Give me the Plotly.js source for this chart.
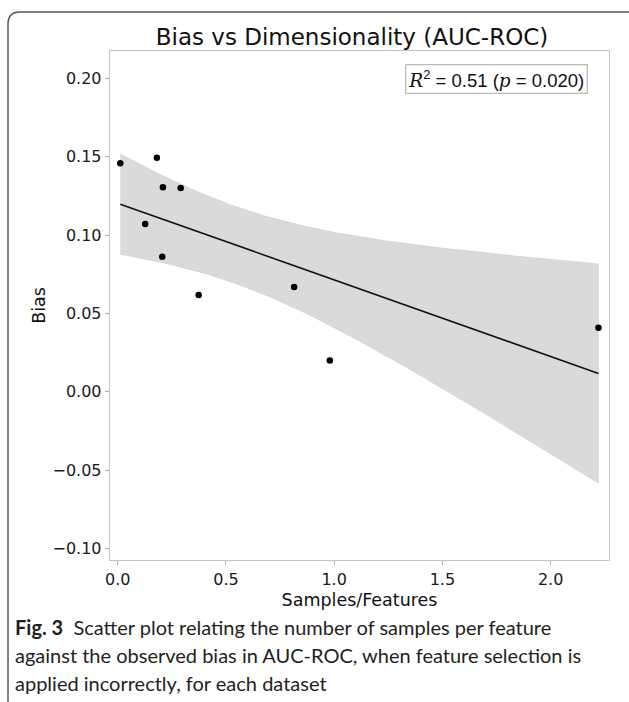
<!DOCTYPE html>
<html>
<head>
<meta charset="utf-8">
<script src="https://cdn.plot.ly/plotly-3.0.1.min.js"></script>
<style>
  html, body { margin: 0; padding: 0; background: #ffffff; }
  #chart { width: 629px; height: 702px; }
</style>
</head>
<body>
<div id="chart"></div>
<script>
// ---------------- data ----------------
const samplesPerFeature = [0.012, 0.181, 0.209, 0.291, 0.127, 0.206, 0.374, 0.815, 0.980, 2.221];
const biasValues        = [0.1458, 0.1494, 0.1305, 0.1300, 0.1070, 0.0862, 0.0617, 0.0668, 0.0200, 0.0409];

const xTickVals  = [0.0, 0.5, 1.0, 1.5, 2.0];
const xTickText  = ["0.0", "0.5", "1.0", "1.5", "2.0"];
const yTickVals  = [-0.10, -0.05, 0.00, 0.05, 0.10, 0.15, 0.20];
const yTickText  = ["\u22120.10", "\u22120.05", "0.00", "0.05", "0.10", "0.15", "0.20"];

const titleText   = "Bias vs Dimensionality (AUC-ROC)";
const xAxisTitle  = "Samples/Features";
const yAxisTitle  = "Bias";
const statsText   = "<i style=\"font-family:'DejaVu Serif'\">R</i><sup>2</sup> = 0.51 (<i style=\"font-family:'DejaVu Serif'\">p</i> = 0.020)";
const captionLines = [
  "<b>Fig. 3</b>\u00a0\u00a0Scatter plot relating the number of samples per feature",
  "against the observed bias in AUC-ROC, when feature selection is",
  "applied incorrectly, for each dataset"
];

// ---------------- regression fit (OLS + 95% CI of the mean) ----------------
const n = samplesPerFeature.length;
const mx = samplesPerFeature.reduce((a, b) => a + b, 0) / n;
const my = biasValues.reduce((a, b) => a + b, 0) / n;
let sxx = 0, sxy = 0;
for (let i = 0; i < n; i++) {
  sxx += (samplesPerFeature[i] - mx) ** 2;
  sxy += (samplesPerFeature[i] - mx) * (biasValues[i] - my);
}
const slope = sxy / sxx;
const intercept = my - slope * mx;
let sse = 0;
for (let i = 0; i < n; i++) {
  const r = biasValues[i] - (intercept + slope * samplesPerFeature[i]);
  sse += r * r;
}
const s = Math.sqrt(sse / (n - 2));
const tCrit = 2.306; // t(0.975, df = 8)
const xMin = Math.min(...samplesPerFeature), xMax = Math.max(...samplesPerFeature);
const gridX = [], fitY = [], upY = [], loY = [];
const steps = 100;
for (let k = 0; k <= steps; k++) {
  const x = xMin + (xMax - xMin) * k / steps;
  const yhat = intercept + slope * x;
  const se = s * Math.sqrt(1 / n + (x - mx) ** 2 / sxx);
  gridX.push(x); fitY.push(yhat);
  upY.push(yhat + tCrit * se); loY.push(yhat - tCrit * se);
}

// ---------------- layout geometry ----------------
const W = 629, H = 702;
const M = { l: 110, r: 20, t: 51, b: 142 };
const PW = W - M.l - M.r, PH = H - M.t - M.b;
const px2x = px => (px - M.l) / PW;
const py2y = py => (H - M.b - py) / PH;

const bandPolyX = gridX.concat(gridX.slice().reverse());
const bandPolyY = upY.concat(loY.slice().reverse());

const traces = [
  {
    x: bandPolyX, y: bandPolyY, type: "scatter", mode: "lines",
    fill: "toself", fillcolor: "rgba(0,0,0,0.145)",
    line: { color: "rgba(0,0,0,0.10)", width: 0.6 },
    hoverinfo: "skip", showlegend: false
  },
  {
    x: gridX, y: fitY, type: "scatter", mode: "lines",
    line: { color: "#111111", width: 1.6 },
    showlegend: false
  },
  {
    x: samplesPerFeature, y: biasValues, type: "scatter", mode: "markers",
    marker: { color: "#000000", size: 6.5 },
    showlegend: false
  }
];

const axisCommon = {
  showgrid: false, zeroline: false,
  showline: true, mirror: true, linecolor: "#c4c4c4", linewidth: 1.3,
  ticks: "outside", ticklen: 4, tickwidth: 1, tickcolor: "#b0b0b0",
  tickfont: { family: "DejaVu Sans", size: 16, color: "#1a1a1a" }
};

const layout = {
  width: W, height: H, autosize: false,
  margin: M,
  paper_bgcolor: "#ffffff", plot_bgcolor: "#ffffff",
  showlegend: false,
  title: {
    text: titleText,
    font: { family: "DejaVu Sans", size: 23, color: "#111111" },
    xref: "paper", x: px2x(352), xanchor: "center",
    yref: "container", y: 1 - 37 / H, yanchor: "middle"
  },
  xaxis: Object.assign({}, axisCommon, {
    range: [-0.0355, 2.2696],
    tickmode: "array", tickvals: xTickVals, ticktext: xTickText,
    title: { text: xAxisTitle, font: { family: "DejaVu Sans", size: 17.5, color: "#111111" }, standoff: 6 }
  }),
  yaxis: Object.assign({}, axisCommon, {
    range: [-0.1074, 0.2175],
    tickmode: "array", tickvals: yTickVals, ticktext: yTickText,
    title: { text: yAxisTitle, font: { family: "DejaVu Sans", size: 17.5, color: "#111111" }, standoff: 2 }
  }),
  annotations: [
    {
      text: statsText, xref: "paper", yref: "paper",
      x: px2x(588), y: py2y(79), xanchor: "right", yanchor: "middle",
      showarrow: false,
      font: { family: "Liberation Sans", size: 18.5, color: "#111111" },
      bgcolor: "#ffffff", bordercolor: "#bcbcbc", borderwidth: 1.3, borderpad: 2
    }
  ].concat(captionLines.map((t, i) => ({
    text: t, xref: "paper", yref: "paper",
    x: px2x(13), y: py2y(627 + 28 * i), xanchor: "left", yanchor: "middle",
    showarrow: false, align: "left",
    font: { family: "Lato", size: 20, color: "#231f20" }
  }))),
  shapes: [
    {
      type: "path", xref: "paper", yref: "paper",
      path: "M " + px2x(8) + "," + py2y(720) +
            " L " + px2x(8) + "," + py2y(24) +
            " Q " + px2x(8) + "," + py2y(12) + " " + px2x(20) + "," + py2y(12) +
            " L " + px2x(640) + "," + py2y(12),
      line: { color: "#555555", width: 1.5 }
    }
  ]
};

Plotly.newPlot("chart", traces, layout, { displayModeBar: false, staticPlot: true });
</script>
</body>
</html>
